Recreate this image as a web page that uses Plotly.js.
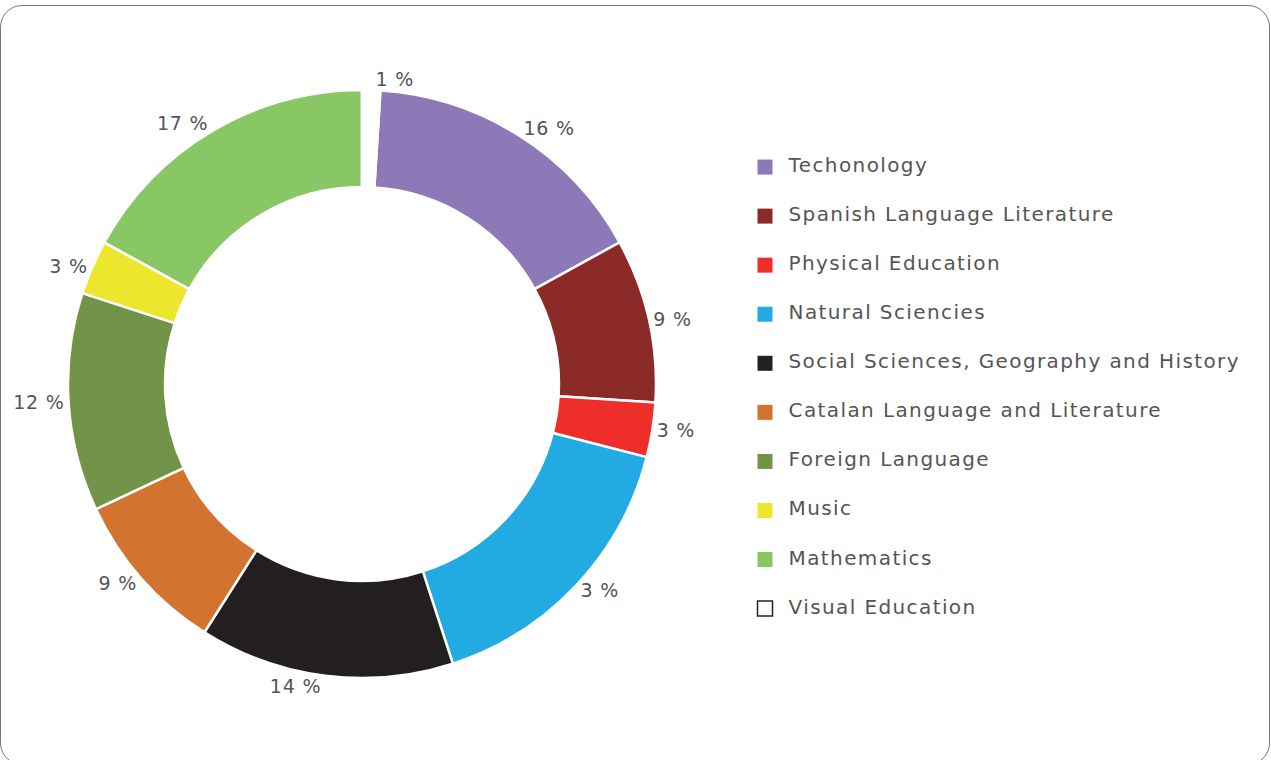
<!DOCTYPE html>
<html>
<head>
<meta charset="utf-8">
<script src="https://cdn.plot.ly/plotly-3.0.1.min.js"></script>
<style>
  html, body { margin: 0; padding: 0; background: #ffffff; overflow: hidden; }
  #wrap { position: relative; width: 1271px; height: 760px; }
  #frame { position: absolute; left: 0px; top: 5px; width: 1270px; height: 760px;
           box-sizing: border-box; border: 1.5px solid #777777; border-radius: 22px; }
  #chart { position: absolute; left: 0; top: 0; width: 1271px; height: 760px; }
  #chart .pielayer text { letter-spacing: 0.8px; }
  #chart .scatterlayer text { letter-spacing: 1.4px; }
</style>
</head>
<body>
<div id="wrap">
  <div id="frame"></div>
  <div id="chart"></div>
</div>
<script>
// ---- data ----
const subjects = [
  'Techonology',
  'Spanish Language Literature',
  'Physical Education',
  'Natural Sciencies',
  'Social Sciences, Geography and History',
  'Catalan Language and Literature',
  'Foreign Language',
  'Music',
  'Mathematics',
  'Visual Education'
];
const shares = [16, 9, 3, 16, 14, 9, 12, 3, 17, 1];
const shareLabels = ['16 %', '9 %', '3 %', '3 %', '14 %', '9 %', '12 %', '3 %', '17 %', '1 %'];
const colors = ['#8e79b8', '#8b2a27', '#ee2e2b', '#22aae2', '#231f20',
                '#d27430', '#719449', '#ece62c', '#88c764', '#ffffff'];

const FONT = '"DejaVu Sans", sans-serif';
const GREY = '#555555';

const pie = {
  type: 'pie',
  labels: subjects,
  values: shares,
  text: shareLabels,
  textinfo: 'text',
  textposition: 'outside',
  textfont: { family: FONT, size: 19, color: GREY },
  outsidetextfont: { family: FONT, size: 19, color: GREY },
  sort: false,
  direction: 'clockwise',
  rotation: 3.6,
  hole: 0.67,
  marker: { colors: colors, line: { color: '#ffffff', width: 2.5 } },
  domain: { x: [0.0535, 0.5161], y: [0.1079, 0.8816] },
  showlegend: false,
  hoverinfo: 'label+percent'
};

// legend drawn as a marker+text column built from the same arrays
const legendTrace = {
  type: 'scatter',
  mode: 'markers+text',
  x: subjects.map(() => 0),
  y: subjects,
  text: subjects,
  texttemplate: '\u00a0\u2009%{text}',
  textposition: 'middle right',
  textfont: { family: FONT, size: 20, color: GREY },
  marker: {
    symbol: 'square',
    size: 15,
    color: colors,
    line: { color: '#222222', width: subjects.map((s, i) => colors[i] === '#ffffff' ? 1.5 : 0) }
  },
  hoverinfo: 'skip',
  showlegend: false,
  cliponaxis: false
};

const layout = {
  width: 1271,
  height: 760,
  margin: { l: 0, r: 0, t: 0, b: 0 },
  paper_bgcolor: 'rgba(0,0,0,0)',
  plot_bgcolor: 'rgba(0,0,0,0)',
  showlegend: false,
  font: { family: FONT, color: GREY },
  xaxis: { visible: false, range: [-765, 506], fixedrange: true },
  yaxis: { visible: false, type: 'category', range: [12.086, -3.405], fixedrange: true }
};

Plotly.newPlot('chart', [legendTrace, pie], layout, { displayModeBar: false });
</script>
</body>
</html>
